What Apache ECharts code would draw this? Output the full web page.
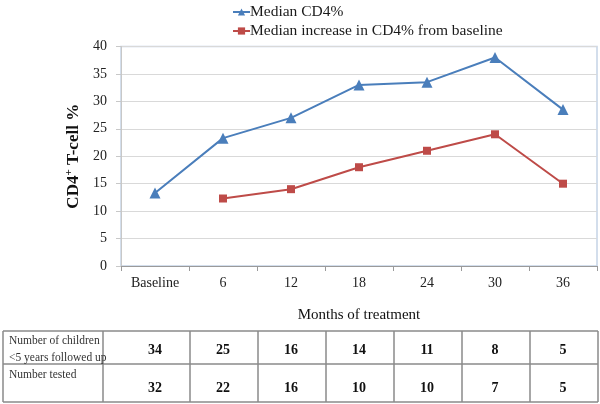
<!DOCTYPE html>
<html>
<head>
<meta charset="utf-8">
<script src="https://cdn.jsdelivr.net/npm/echarts@6/dist/echarts.min.js"></script>
<style>html,body{margin:0;padding:0;background:#fff}#c{width:600px;height:404px}</style>
</head>
<body>
<div id="c"></div>
<script>
const categories = ['Baseline', '6', '12', '18', '24', '30', '36'];
const medianCD4 = [13.3, 23.3, 27, 33, 33.5, 38, 28.5];
const medianIncrease = [null, 12.3, 14, 18, 21, 24, 15];
const childrenFollowed = [34, 25, 16, 14, 11, 8, 5];
const numberTested = [32, 22, 16, 10, 10, 7, 5];
const yTicks = [0, 5, 10, 15, 20, 25, 30, 35, 40];
const rowLabels = [['Number of children', '<5 years followed up'], ['Number tested']];

const FONT = 'Liberation Serif';
const chart = echarts.init(document.getElementById('c'), null, {renderer: 'canvas'});

const tableAxis = (vals, offset) => ({
  type: 'category', data: categories, position: 'bottom', offset: offset,
  axisLine: {show: false}, axisTick: {show: false}, splitLine: {show: false},
  axisLabel: {
    margin: 0, verticalAlign: 'middle', interval: 0,
    formatter: (v, i) => String(vals[i]),
    fontFamily: FONT, fontSize: 14, fontWeight: 'bold', color: '#111'
  }
});

const tableGraphics = [];
const lineStyle = {stroke: '#8a8a8a', lineWidth: 1.5};
[331, 364, 402].forEach(y => tableGraphics.push({type: 'line', shape: {x1: 3, y1: y, x2: 598, y2: y}, style: lineStyle, silent: true}));
[3, 103, 190, 258, 326, 394, 462, 530, 598].forEach(x => tableGraphics.push({type: 'line', shape: {x1: x, y1: 331, x2: x, y2: 402}, style: lineStyle, silent: true}));
tableGraphics.push({type: 'text', left: 9, top: 332, style: {text: rowLabels[0].join('\n'), font: '11.5px "Liberation Serif"', fill: '#333', lineHeight: 17}});
tableGraphics.push({type: 'text', left: 9, top: 369, style: {text: rowLabels[1].join('\n'), font: '11.5px "Liberation Serif"', fill: '#333'}});

chart.setOption({
  animation: false,
  backgroundColor: '#fff',
  legend: {
    orient: 'vertical', left: 227, top: -1, itemGap: 3, itemWidth: 17, itemHeight: 9,
    textStyle: {fontFamily: FONT, fontSize: 15.5, color: '#1a1a1a', padding: [0, 0, 0, -5]},
    data: ['Median CD4%', 'Median increase in CD4% from baseline']
  },
  grid: {left: 121, right: 3, top: 46.5, bottom: 138, show: true, borderColor: '#c5d4e6', borderWidth: 1.5, backgroundColor: 'transparent'},
  xAxis: [{
    type: 'category', data: categories, boundaryGap: true,
    name: 'Months of treatment', nameLocation: 'middle', nameGap: 42,
    nameTextStyle: {fontFamily: FONT, fontSize: 15, color: '#111'},
    axisLine: {lineStyle: {color: '#9a9a9a', width: 1}},
    axisTick: {show: true, length: 5, lineStyle: {color: '#9a9a9a'}},
    axisLabel: {margin: 10, interval: 0, fontFamily: FONT, fontSize: 14, color: '#222'},
    splitLine: {show: false}
  }, tableAxis(childrenFollowed, 84), tableAxis(numberTested, 122)],
  yAxis: {
    type: 'value', min: 0, max: 40, interval: 5,
    name: '{a|CD4}{s|+}{a| T-cell %}', nameLocation: 'middle', nameGap: 36, nameRotate: 90,
    nameTextStyle: {rich: {
      a: {fontFamily: FONT, fontSize: 17, fontWeight: 'bold', color: '#111'},
      s: {fontFamily: FONT, fontSize: 11, fontWeight: 'bold', color: '#111', verticalAlign: 'bottom', padding: [0, 0, 8, 0]}
    }},
    axisLine: {show: true, lineStyle: {color: '#c8c8c8'}},
    axisTick: {show: true, length: 5, lineStyle: {color: '#c8c8c8'}},
    axisLabel: {margin: 14, fontFamily: FONT, fontSize: 14, color: '#222', formatter: v => yTicks.includes(v) ? String(v) : ''},
    splitLine: {lineStyle: {color: '#d9d9d9', width: 1.2}}
  },
  series: [{
    name: 'Median CD4%', type: 'line', data: medianCD4, symbol: 'triangle', symbolSize: 11,
    itemStyle: {color: '#4a7ebb'}, lineStyle: {color: '#4a7ebb', width: 2}
  }, {
    name: 'Median increase in CD4% from baseline', type: 'line', data: medianIncrease, symbol: 'rect', symbolSize: 8,
    itemStyle: {color: '#be4b48'}, lineStyle: {color: '#be4b48', width: 2}
  }],
  graphic: tableGraphics
});
</script>
</body>
</html>
